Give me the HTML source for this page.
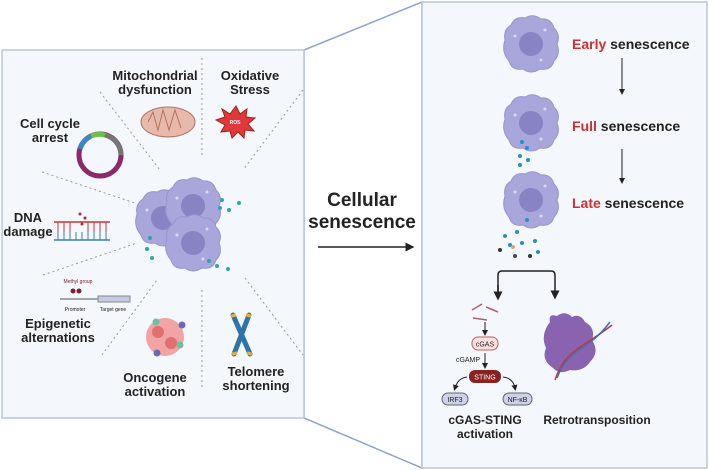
<!DOCTYPE html>
<html><head><meta charset="utf-8"><style>
body{margin:0;width:709px;height:470px;background:#fff;overflow:hidden}
svg{display:block}
text{font-family:"Liberation Sans",sans-serif;font-weight:bold;fill:#222}
</style></head><body>
<svg width="709" height="470" viewBox="0 0 709 470">
<defs>
<g id="cell"><path d="M-26,-4 Q-28,-14 -20,-19 Q-16,-28 -6,-26 Q2,-31 10,-25 Q20,-26 23,-16 Q30,-9 26,0 Q30,10 23,17 Q20,27 9,25 Q0,31 -8,25 Q-19,27 -22,17 Q-30,8 -26,-4Z" fill="#a9a6dc" stroke="#9893cf" stroke-width="1"/><circle r="12" fill="#8884c4"/><circle cx="-16" cy="-8" r="1.5" fill="#dcdaf5"/><circle cx="14" cy="-14" r="1.5" fill="#dcdaf5"/><circle cx="10" cy="16" r="1.5" fill="#dcdaf5"/></g>
<marker id="ar" markerWidth="6" markerHeight="6" refX="3" refY="3" orient="auto"><path d="M0,0L6,3L0,6Z" fill="#222"/></marker>
</defs>
<path d="M304,50 L422,2 L422,468 L304,418Z" fill="#fff" stroke="#8fa3d4" stroke-width="1.5"/>
<rect x="2" y="50" width="302" height="368" fill="#f4f7fb" stroke="#b8c6e3" stroke-width="1.5"/>
<rect x="422" y="2" width="285" height="466" fill="#f4f7fb" stroke="#b8c6e3" stroke-width="1.5"/>
<g stroke="#999" stroke-dasharray="2,3" stroke-width="1">
<line x1="202" y1="58" x2="202" y2="157"/><line x1="100" y1="92" x2="160" y2="170"/>
<line x1="303" y1="90" x2="243" y2="170"/><line x1="42" y1="172" x2="135" y2="203"/>
<line x1="43" y1="275" x2="137" y2="243"/><line x1="102" y1="355" x2="157" y2="280"/>
<line x1="202" y1="290" x2="202" y2="390"/><line x1="245" y1="278" x2="303" y2="355"/>
</g>
<g font-size="13" text-anchor="middle">
<text x="155" y="80">Mitochondrial</text><text x="155" y="94">dysfunction</text>
<text x="250" y="80">Oxidative</text><text x="250" y="94">Stress</text>
<text x="50" y="128">Cell cycle</text><text x="50" y="142">arrest</text>
<text x="28" y="222">DNA</text><text x="28" y="236">damage</text>
<text x="58" y="328">Epigenetic</text><text x="58" y="342">alternations</text>
<text x="155" y="382">Oncogene</text><text x="155" y="396">activation</text>
<text x="256" y="376">Telomere</text><text x="256" y="390">shortening</text>
</g>
<ellipse cx="168" cy="122" rx="27" ry="15" fill="#e7b9aa" stroke="#b37060"/>
<path d="M148,122 L153,112 L158,130 L163,110 L169,130 L175,110 L181,128" fill="none" stroke="#b37060"/>
<g transform="translate(235,122)"><polygon points="1,-16 5,-8 12,-13 11,-5 20,-4 13,2 19,9 10,8 9,16 3,10 -3,16 -5,9 -14,10 -10,3 -19,-2 -10,-5 -13,-13 -5,-8" fill="#e0393a" stroke="#a02020"/>
<text x="0" y="2" font-size="5" text-anchor="middle" style="fill:#fff">ROS</text></g>
<g transform="translate(100,155)">
<circle r="21" fill="none" stroke="#8b2a6b" stroke-width="5"/>
<path d="M-20,-6 A21,21 0 0 1 -9,-19" fill="none" stroke="#3a86c8" stroke-width="5"/>
<path d="M-9,-19 A21,21 0 0 1 5,-20" fill="none" stroke="#6bbf4a" stroke-width="5"/>
<path d="M5,-20 A21,21 0 0 1 21,0" fill="none" stroke="#777" stroke-width="5"/>
</g>
<g stroke="#3a7fb5" stroke-width="1.5"><line x1="54" y1="240" x2="110" y2="240"/></g>
<g stroke="#c33" stroke-width="1.5"><line x1="54" y1="222" x2="110" y2="222"/></g>
<g stroke="#c33"><line x1="58" y1="222" x2="58" y2="232"/><line x1="64" y1="222" x2="64" y2="232"/><line x1="70" y1="222" x2="70" y2="232"/><line x1="88" y1="222" x2="88" y2="232"/><line x1="94" y1="222" x2="94" y2="232"/><line x1="100" y1="222" x2="100" y2="232"/><line x1="106" y1="222" x2="106" y2="232"/></g>
<g stroke="#3a7fb5"><line x1="58" y1="232" x2="58" y2="240"/><line x1="64" y1="232" x2="64" y2="240"/><line x1="70" y1="232" x2="70" y2="240"/><line x1="76" y1="232" x2="76" y2="240"/><line x1="82" y1="232" x2="82" y2="240"/><line x1="88" y1="232" x2="88" y2="240"/><line x1="94" y1="232" x2="94" y2="240"/><line x1="100" y1="232" x2="100" y2="240"/><line x1="106" y1="232" x2="106" y2="240"/></g>
<g fill="#a03040"><circle cx="80" cy="214" r="1.5"/><circle cx="85" cy="218" r="1.5"/><circle cx="82" cy="224" r="1.5"/></g>
<line x1="60" y1="299" x2="130" y2="299" stroke="#555"/>
<rect x="98" y="296" width="32" height="6" fill="#c5cbe6" stroke="#888"/>
<circle cx="73" cy="291" r="2.5" fill="#7a2030"/><circle cx="79" cy="291" r="2.5" fill="#7a2030"/>
<text x="78" y="283" font-size="5" style="font-weight:normal;fill:#7a2030" text-anchor="middle">Methyl group</text>
<text x="75" y="311" font-size="5" style="font-weight:normal" text-anchor="middle">Promoter</text>
<text x="113" y="311" font-size="5" style="font-weight:normal" text-anchor="middle">Target gene</text>
<circle cx="165" cy="337" r="19" fill="#f2a3a3"/><circle cx="158" cy="332" r="6" fill="#e07070"/><circle cx="171" cy="343" r="6" fill="#e07070"/>
<circle cx="157" cy="353" r="3.5" fill="#6a6ab8"/><circle cx="182" cy="325" r="3.5" fill="#6a6ab8"/><circle cx="156" cy="322" r="3.5" fill="#6fc09f"/><circle cx="180" cy="345" r="3.5" fill="#6fc09f"/>
<path d="M233,315 L250,354 M249,315 L234,354" stroke="#2f74a8" stroke-width="5" stroke-linecap="round"/>
<g stroke="#e8b030" stroke-width="5"><line x1="233" y1="314" x2="234" y2="317"/><line x1="249" y1="314" x2="248" y2="317"/><line x1="234" y1="352" x2="235" y2="355"/><line x1="250" y1="352" x2="249" y2="355"/></g>
<g transform="translate(163,218)"><use href="#cell"/></g>
<g transform="translate(193,206)"><use href="#cell"/></g>
<g transform="translate(193,243)"><use href="#cell"/></g>
<g fill="#2aa5b5"><circle cx="220" cy="208" r="2"/><circle cx="229" cy="210" r="2"/><circle cx="239" cy="203" r="2"/><circle cx="222" cy="200" r="2"/><circle cx="150" cy="238" r="2"/><circle cx="147" cy="249" r="2"/><circle cx="152" cy="258" r="2"/><circle cx="209" cy="261" r="2"/><circle cx="217" cy="266" r="2"/><circle cx="228" cy="269" r="2"/></g>
<text x="362" y="206" font-size="19" text-anchor="middle">Cellular</text>
<text x="362" y="228" font-size="19" text-anchor="middle">senescence</text>
<line x1="318" y1="247" x2="410" y2="247" stroke="#222" stroke-width="1.5" marker-end="url(#ar)"/>
<g transform="translate(531,44)"><use href="#cell"/></g>
<g transform="translate(531,123)"><use href="#cell"/></g>
<g transform="translate(531,200)"><use href="#cell"/></g>
<g fill="#2a8fc0"><circle cx="522" cy="142" r="2"/><circle cx="527" cy="148" r="2"/><circle cx="520" cy="156" r="2"/><circle cx="528" cy="160" r="2"/><circle cx="520" cy="165" r="2"/><circle cx="527" cy="220" r="2"/><circle cx="517" cy="232" r="2"/><circle cx="505" cy="236" r="2"/><circle cx="510" cy="245" r="2"/><circle cx="522" cy="243" r="2"/><circle cx="535" cy="241" r="2"/><circle cx="500" cy="250" r="2" fill="#333"/><circle cx="515" cy="256" r="2" fill="#445"/><circle cx="530" cy="256" r="2" fill="#333"/><circle cx="538" cy="252" r="2"/><circle cx="513" cy="247" r="2" fill="#e0a070"/></g>
<g font-size="14"><text x="572" y="49"><tspan style="fill:#d03030">Early</tspan> senescence</text>
<text x="572" y="131"><tspan style="fill:#d03030">Full</tspan> senescence</text>
<text x="572" y="208"><tspan style="fill:#d03030">Late</tspan> senescence</text></g>
<line x1="622" y1="58" x2="622" y2="92" stroke="#222" marker-end="url(#ar)"/>
<line x1="622" y1="149" x2="622" y2="181" stroke="#222" marker-end="url(#ar)"/>
<path d="M498,295 L498,275 Q498,271 502,271 L551,271 Q555,271 555,275 L555,295" fill="none" stroke="#222" stroke-width="1.5" marker-end="url(#ar)"/>
<line x1="498" y1="285" x2="498" y2="296" stroke="#222" stroke-width="1.5" marker-end="url(#ar)"/>
<path d="M472,310 l10,-6 M486,307 l12,5 M473,318 l14,2" stroke="#b06070" stroke-width="1.5"/>
<line x1="485" y1="322" x2="485" y2="333" stroke="#222" marker-end="url(#ar)"/>
<rect x="472" y="337" width="26" height="13" rx="6" fill="#fbe0e0" stroke="#c06060"/>
<text x="485" y="346.5" font-size="7" text-anchor="middle" style="font-weight:normal">cGAS</text>
<text x="468" y="362" font-size="7" text-anchor="middle" style="font-weight:normal">cGAMP</text>
<line x1="485" y1="353" x2="485" y2="366" stroke="#222" marker-end="url(#ar)"/>
<rect x="469" y="370" width="32" height="13" rx="6" fill="#8b2020"/>
<text x="485" y="379.5" font-size="7" text-anchor="middle" style="font-weight:normal;fill:#fff">STING</text>
<path d="M467,377 Q458,378 455,388" fill="none" stroke="#222" marker-end="url(#ar)"/>
<path d="M503,377 Q513,378 515,388" fill="none" stroke="#222" marker-end="url(#ar)"/>
<rect x="442" y="393" width="26" height="12" rx="6" fill="#cdd2ea" stroke="#666"/>
<text x="455" y="402" font-size="7" text-anchor="middle" style="font-weight:normal">IRF3</text>
<rect x="503" y="393" width="29" height="12" rx="6" fill="#cdd2ea" stroke="#666"/>
<text x="517.5" y="402" font-size="7" text-anchor="middle" style="font-weight:normal">NF-κB</text>
<text x="485" y="424" font-size="12" text-anchor="middle">cGAS-STING</text>
<text x="485" y="438" font-size="12" text-anchor="middle">activation</text>
<text x="597" y="424" font-size="12" text-anchor="middle">Retrotransposition</text>
<path d="M550,322 Q548,313 557,316 Q565,310 572,317 Q580,313 585,322 Q596,328 592,340 Q600,352 590,362 Q583,372 570,370 Q560,375 553,368 Q541,360 546,348 Q540,335 550,322Z" fill="#8a63b0"/>
<path d="M555,380 C565,350 580,350 612,325" fill="none" stroke="#d03030" stroke-width="1.5"/>
<path d="M557,378 C570,345 585,355 610,322" fill="none" stroke="#3a70c0" stroke-width="1.5"/>
</svg>
</body></html>
